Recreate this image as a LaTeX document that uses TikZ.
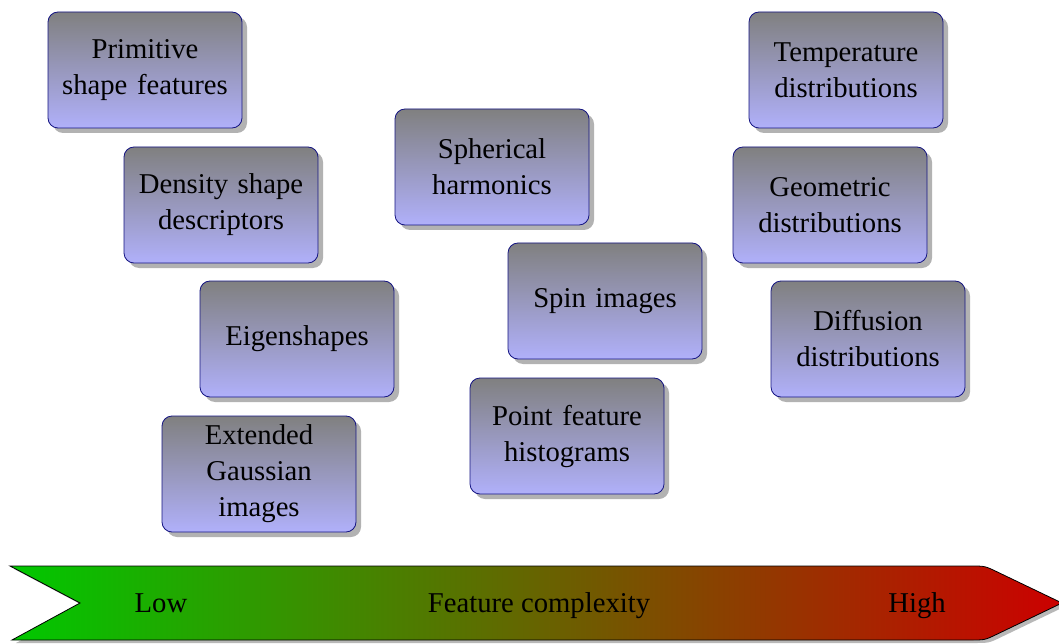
\documentclass[tikz,border=0pt]{standalone}
\usepackage{fontspec}
\setmainfont{Liberation Serif}
\usetikzlibrary{shadows}
\definecolor{boxborder}{RGB}{20,20,130}
\definecolor{boxtop}{RGB}{128,128,128}
\definecolor{boxbot}{RGB}{176,176,250}
\definecolor{lowgreen}{RGB}{0,200,0}
\definecolor{highred}{RGB}{204,0,0}
\tikzset{
  featbox/.style={draw=boxborder, line width=0.8pt, rounded corners=10pt,
    top color=boxtop, bottom color=boxbot,
    minimum width=194pt, minimum height=116pt, text width=180pt, inner sep=7pt,
    align=center, font=\fontsize{28.7}{36}\selectfont,
    drop shadow={shadow xshift=5pt, shadow yshift=-5pt, fill=black, opacity=0.3}},
  arrowlabel/.style={font=\fontsize{28.7}{36}\selectfont, inner sep=0pt, anchor=base}
}
\begin{document}
\begin{tikzpicture}[x=1pt,y=-1pt]
\useasboundingbox (0,0) rectangle (1059,644);
% feature boxes
\node[featbox] (prim) at (145,70) {Primitive\\shape features};
\node[featbox] (dens) at (221,205) {Density shape\\descriptors};
\node[featbox] (eig) at (297,339) {Eigenshapes};
\node[featbox] (egi) at (259,474) {Extended\\Gaussian\\images};
\node[featbox] (sph) at (492,167) {Spherical\\harmonics};
\node[featbox] (spin) at (605,301) {Spin images};
\node[featbox] (pfh) at (567,436) {Point feature\\histograms};
\node[featbox] (temp) at (846,70) {Temperature\\distributions};
\node[featbox] (geo) at (830,205) {Geometric\\distributions};
\node[featbox] (diff) at (868,339) {Diffusion\\distributions};
% complexity arrow: shadow
\fill[black!28, shift={(4,3)}]
  (1062,603) -- (997.6,572.1) .. controls (985,566) .. (971,566) -- (10,566)
  -- (80,603) -- (12,640) -- (971,640) .. controls (985,640) .. (997.6,633.9) -- cycle;
% complexity arrow
\draw[left color=lowgreen, right color=highred, line width=0.8pt]
  (1062,603) -- (997.6,572.1) .. controls (985,566) .. (971,566) -- (10,566)
  -- (80,603) -- (12,640) -- (971,640) .. controls (985,640) .. (997.6,633.9) -- cycle;
\node[arrowlabel] (low) at (161,612) {Low};
\node[arrowlabel] (fc) at (539,612) {Feature complexity};
\node[arrowlabel] (high) at (917,612) {High};
\end{tikzpicture}
\end{document}
